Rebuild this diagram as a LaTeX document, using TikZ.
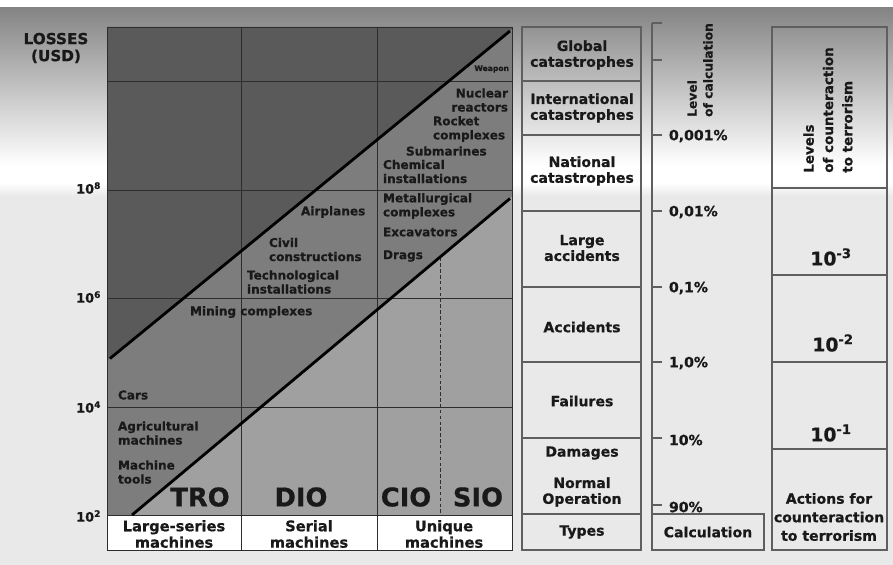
\documentclass[tikz,border=0pt]{standalone}
\usepackage{fontspec}
\setmainfont{DejaVu Sans}[BoldFeatures={FakeBold=0.6}]
\definecolor{bgtop}{RGB}{132,132,132}
\definecolor{bglow}{RGB}{233,233,233}
\definecolor{cdark}{RGB}{90,90,90}
\definecolor{cmid}{RGB}{125,125,125}
\definecolor{clight}{RGB}{160,160,160}
\definecolor{gridc}{RGB}{45,45,45}
\definecolor{boxc}{RGB}{95,95,95}
\definecolor{txt}{RGB}{25,25,25}
\begin{document}
\begin{tikzpicture}[x=0.03cm,y=-0.03cm,
  every node/.style={inner sep=0pt,outer sep=0pt,text=txt},
  lbl/.style={font=\fontsize{10.3}{12}\selectfont\bfseries,align=left},
  lblr/.style={font=\fontsize{10.3}{12}\selectfont\bfseries,align=right},
  axl/.style={font=\fontsize{11}{12}\selectfont\bfseries,anchor=east},
  collbl/.style={font=\fontsize{12}{13.5}\selectfont\bfseries,align=center},
  botlbl/.style={font=\fontsize{12.5}{14}\selectfont\bfseries,align=center},
  pct/.style={font=\fontsize{12}{14}\selectfont\bfseries,anchor=west},
  biglbl/.style={font=\fontsize{22}{24}\selectfont\bfseries},
  expo/.style={font=\fontsize{16}{18}\selectfont\bfseries},
  gridline/.style={draw=gridc,line width=0.6pt},
  diagline/.style={draw=black,line width=2.4pt},
  boxline/.style={draw=boxc,line width=0.9pt}]
\useasboundingbox (0,0) rectangle (893,565);
% background
\fill[white] (0,0) rectangle (893,565);
\shade[top color=bgtop,bottom color=white] (0,8) rectangle (893,165);
\shade[top color=white,bottom color=bglow] (0,183) rectangle (893,196);
\fill[bglow] (0,196) rectangle (893,565);
% chart regions
\coordinate (TL) at (107,27);
\coordinate (TR) at (512,27);
\coordinate (BR) at (512,515);
\coordinate (BL) at (107,515);
\coordinate (ua) at (107,361);
\coordinate (ub) at (512,29.4);
\coordinate (la) at (132,515);
\coordinate (lb) at (512,196.8);
\fill[cdark] (TL) -- (TR) -- (ub) -- (ua) -- cycle;
\fill[cmid] (ua) -- (ub) -- (lb) -- (la) -- (BL) -- cycle;
\fill[clight] (la) -- (lb) -- (BR) -- cycle;
\fill[white] (107,515) rectangle (512,550);
% grid
\foreach \yy in {81,190,298,407,515} \draw[gridline] (107,\yy) -- (512,\yy);
\foreach \xx in {241,377} \draw[gridline] (\xx,27) -- (\xx,550);
\draw[gridline] (107,27) rectangle (512,550);
\coordinate (dtop) at (440,257.5);
\coordinate (dbot) at (440,515);
\draw[gridc,line width=0.6pt,dash pattern=on 3pt off 2pt] (dtop) -- (dbot);
% diagonals
\coordinate (u1) at (110,358.5);
\coordinate (u2) at (510,31);
\coordinate (l1) at (132,515);
\coordinate (l2) at (510,198.5);
\draw[diagline] (u1) -- (u2);
\draw[diagline] (l1) -- (l2);
% axis labels
\node[font=\fontsize{13}{14.5}\selectfont\bfseries,align=center] (losses) at (56,48) {LOSSES\\(USD)};
\node[axl] (e8) at (101,188) {10\textsuperscript{8}};
\node[axl] (e6) at (101,297) {10\textsuperscript{6}};
\node[axl] (e4) at (101,407) {10\textsuperscript{4}};
\node[axl] (e2) at (101,516) {10\textsuperscript{2}};
% chart labels
\node[font=\fontsize{6.5}{7}\selectfont\bfseries,anchor=east] (weapon) at (509,69) {Weapon};
\node[lblr,anchor=east] (nuclear) at (508,100) {Nuclear\\reactors};
\node[lbl,anchor=west] (rocket) at (433,129) {Rocket\\complexes};
\node[lbl,anchor=west] (subm) at (406,151) {Submarines};
\node[lbl,anchor=west] (chem) at (383,171.5) {Chemical\\installations};
\node[lbl,anchor=west] (metal) at (383,206) {Metallurgical\\complexes};
\node[lbl,anchor=west] (excav) at (383,232) {Excavators};
\node[lbl,anchor=west] (drags) at (383,256) {Drags};
\node[lbl,anchor=west] (airpl) at (301,212) {Airplanes};
\node[lbl,anchor=west] (civil) at (269,249.5) {Civil\\constructions};
\node[lbl,anchor=west] (techn) at (247,282) {Technological\\installations};
\node[lbl,anchor=west] (mining) at (190,312) {Mining complexes};
\node[lbl,anchor=west] (cars) at (118,395) {Cars};
\node[lbl,anchor=west] (agri) at (118,433) {Agricultural\\machines};
\node[lbl,anchor=west] (mtools) at (118,472) {Machine\\tools};
\node[biglbl] (tro) at (200,497) {TRO};
\node[biglbl] (dio) at (301,497) {DIO};
\node[biglbl] (cio) at (406,497) {CIO};
\node[biglbl] (sio) at (478,497) {SIO};
\node[botlbl] (large) at (174,534) {Large-series\\machines};
\node[botlbl] (serial) at (309,534) {Serial\\machines};
\node[botlbl] (unique) at (444,534) {Unique\\machines};
% column 1: types
\draw[boxline] (522,27) rectangle (641,550);
\foreach \yy in {81,135,211,287,362,438,514} \draw[boxline] (522,\yy) -- (641,\yy);
\node[collbl] (glob) at (582,55) {Global\\catastrophes};
\node[collbl] (intl) at (582,108) {International\\catastrophes};
\node[collbl] (natl) at (582,171) {National\\catastrophes};
\node[collbl] (larg) at (582,248) {Large\\accidents};
\node[collbl] (acc) at (582,327) {Accidents};
\node[collbl] (fail) at (582,401) {Failures};
\node[collbl] (dam) at (582,453) {Damages};
\node[collbl] (norm) at (582,492) {Normal\\Operation};
\node[collbl] (types) at (582,532) {Types};
% column 2: calculation scale
\coordinate (sctop) at (652,23);
\coordinate (scbot) at (652,514);
\draw[boxline] (sctop) -- (scbot);
\foreach \yy in {23,60,135,211,287,362,438,505} \draw[boxline] (652,\yy) -- (662,\yy);
\draw[boxline] (652,514) rectangle (764,550);
\node[font=\fontsize{10.5}{13.5}\selectfont\bfseries,align=left,rotate=90] (lvlcalc) at (700,70) {Level\\of calculation};
\node[pct] (p1) at (669,136) {0,001\%};
\node[pct] (p2) at (669,212) {0,01\%};
\node[pct] (p3) at (669,288) {0,1\%};
\node[pct] (p4) at (669,363) {1,0\%};
\node[pct] (p5) at (669,440) {10\%};
\node[pct] (p6) at (669,507) {90\%};
\node[collbl] (calc) at (708,532) {Calculation};
% column 3: counteraction
\draw[boxline] (772,27) rectangle (887,550);
\foreach \yy in {188,275,362,449} \draw[boxline] (772,\yy) -- (887,\yy);
\node[font=\fontsize{11.5}{16.5}\selectfont\bfseries,align=left,rotate=90] (lvlcount) at (828,110) {Levels\\of counteraction\\to terrorism};
\node[expo] (m3) at (831,257) {10\textsuperscript{-3}};
\node[expo] (m2) at (833,343) {10\textsuperscript{-2}};
\node[expo] (m1) at (831,433) {10\textsuperscript{-1}};
\node[font=\fontsize{12}{15.8}\selectfont\bfseries,align=center] (actions) at (829,517) {Actions for\\counteraction\\to terrorism};
\end{tikzpicture}
\end{document}
